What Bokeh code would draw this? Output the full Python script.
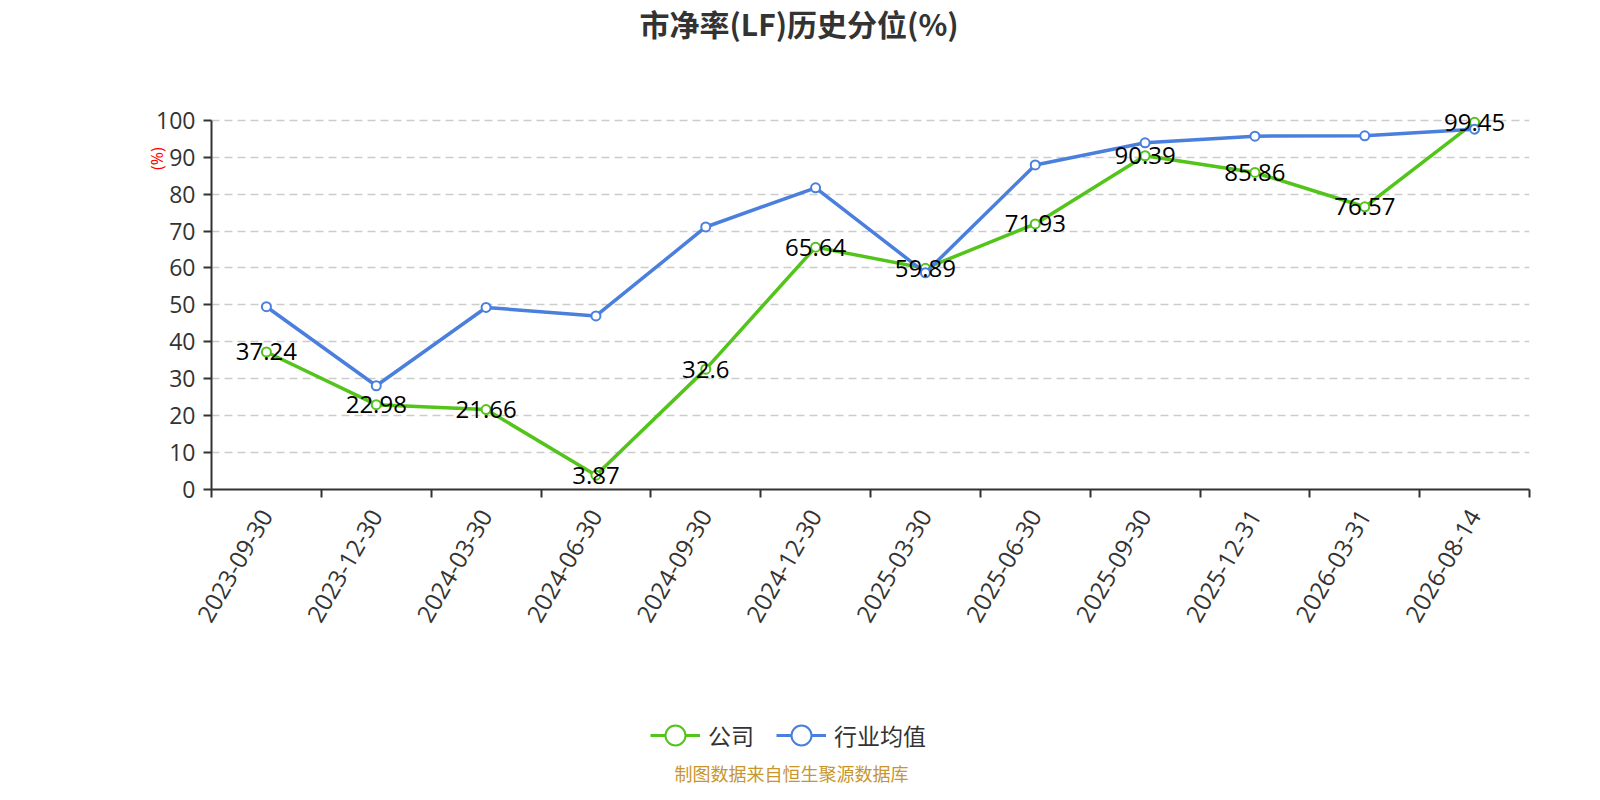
from bokeh.plotting import figure
from bokeh.layouts import column
from bokeh.models import (Range1d, FixedTicker, Legend, LegendItem, Title, LinearAxis, Label)
from bokeh.core.properties import value
from bokeh.embed import file_html
from bokeh.resources import INLINE
import math

# ---- data ----
dates = ["2023-09-30", "2023-12-30", "2024-03-30", "2024-06-30", "2024-09-30",
         "2024-12-30", "2025-03-30", "2025-06-30", "2025-09-30", "2025-12-31",
         "2026-03-31", "2026-08-14"]
company = [37.24, 22.98, 21.66, 3.87, 32.6, 65.64, 59.89, 71.93, 90.39, 85.86, 76.57, 99.45]
industry = [49.5, 28.1, 49.3, 47.0, 71.1, 81.7, 58.7, 87.9, 93.9, 95.7, 95.8, 97.6]
y_ticks = list(range(0, 101, 10))

title_text = "市净率(LF)历史分位(%)"
series_names = ["公司", "行业均值"]
footer_text = "制图数据来自恒生聚源数据库"
y_name = "(%)"
y_name_at = 92.7

GREEN = "#52c41a"
BLUE = "#4a7fdd"
AX = "#333333"
NUM_FONT = "Open Sans"
CJK_FONT = "Noto Sans CJK SC"

idx = list(range(len(dates)))

p = figure(width=1584, height=654, output_backend="svg", toolbar_location=None,
           title=None,
           x_range=Range1d(-0.5, len(dates) - 0.5), y_range=Range1d(0, 104),
           min_border_left=211, min_border_right=55, min_border_top=0,
           min_border_bottom=165)
p.outline_line_color = None
p.background_fill_color = "white"
p.border_fill_color = "white"

# axes
xa = p.xaxis[0]
xa.ticker = FixedTicker(ticks=idx, minor_ticks=[i - 0.5 for i in range(len(dates) + 1)])
xa.major_label_overrides = {i: d for i, d in zip(idx, dates)}
xa.major_label_orientation = math.pi / 3
xa.major_tick_out = 0
xa.major_tick_in = 0
xa.minor_tick_out = 8
xa.minor_tick_in = 0
xa.minor_tick_line_color = AX
xa.minor_tick_line_width = 2
xa.axis_line_color = AX
xa.axis_line_width = 2
xa.major_label_text_font = NUM_FONT
xa.major_label_text_font_size = "24px"
xa.major_label_text_color = AX
xa.major_label_standoff = 14

ya = p.yaxis[0]
ya.ticker = FixedTicker(ticks=y_ticks)
ya.bounds = (0, 100)
ya.major_tick_out = 8
ya.major_tick_in = 0
ya.major_tick_line_color = AX
ya.major_tick_line_width = 2
ya.minor_tick_line_color = None
ya.axis_line_color = AX
ya.axis_line_width = 2
ya.major_label_text_font = NUM_FONT
ya.major_label_text_font_size = "23px"
ya.major_label_text_color = AX
ya.major_label_standoff = 8

# axis name "(%)" near the top of the y axis
p.extra_y_ranges = {"pct": Range1d(0, 104)}
ya2 = LinearAxis(y_range_name="pct", ticker=FixedTicker(ticks=[y_name_at]),
                 major_label_overrides={y_name_at: y_name},
                 major_label_orientation=math.pi / 2,
                 axis_line_color=None, major_tick_line_color=None,
                 minor_tick_line_color=None, major_label_text_color="red",
                 major_label_text_font=NUM_FONT, major_label_text_font_size="16px",
                 major_label_standoff=-10)
p.add_layout(ya2, "left")

p.xgrid.grid_line_color = None
p.ygrid.grid_line_color = "#cccccc"
p.ygrid.grid_line_dash = "8 5"
p.ygrid.grid_line_width = 1.5

# series
p.line(idx, company, line_color=GREEN, line_width=3.5)
p.scatter(idx, company, size=9, fill_color="white", line_color=GREEN, line_width=2)
p.line(idx, industry, line_color=BLUE, line_width=3.5)
p.scatter(idx, industry, size=9, fill_color="white", line_color=BLUE, line_width=2)

p.text(idx, company, text=[str(v) for v in company], text_font=value(NUM_FONT),
       text_font_size="24px", text_color="black", text_align="center",
       text_baseline="middle")

# title (top), with a spacer between it and the plot
p.add_layout(Title(text=" ", text_font_size="10px", standoff=46), "above")
p.add_layout(Title(text=title_text, align="left", offset=428, vertical_align="top",
                   text_font=CJK_FONT, text_font_size="30px", text_font_style="bold",
                   text_color=AX, standoff=0), "above")

# ---- legend + footer strip ----
q = figure(width=1584, height=130, output_backend="svg", toolbar_location=None,
           title=None, x_range=Range1d(100, 101), y_range=Range1d(100, 101),
           min_border=0)
q.axis.visible = False
q.grid.visible = False
q.outline_line_color = None
q.background_fill_color = "white"
q.border_fill_color = "white"

# legend key renderers (their single point lies outside this strip's view)
gl = q.line(idx[:1], company[:1], line_color=GREEN, line_width=3)
gs = q.scatter(idx[:1], company[:1], size=9, fill_color="white", line_color=GREEN, line_width=2)
bl = q.line(idx[:1], industry[:1], line_color=BLUE, line_width=3)
bs = q.scatter(idx[:1], industry[:1], size=9, fill_color="white", line_color=BLUE, line_width=2)

legend = Legend(items=[LegendItem(label=series_names[0], renderers=[gl, gs]),
                       LegendItem(label=series_names[1], renderers=[bl, bs])],
                orientation="horizontal", location=(439, 24),
                glyph_width=50, glyph_height=50, label_standoff=8, spacing=22,
                margin=0, padding=0, border_line_color=None,
                background_fill_alpha=0,
                label_text_font=CJK_FONT, label_text_font_size="23px",
                label_text_color=AX)
q.add_layout(legend)
q.add_layout(Label(x=580, y=12, x_units="screen", y_units="screen", text=footer_text,
                   text_align="center", text_baseline="middle", text_font=CJK_FONT,
                   text_font_size="18px", text_color="#c8962d"))

layout = column(p, q, spacing=0)
open("out.html", "w").write(file_html(layout, INLINE))
